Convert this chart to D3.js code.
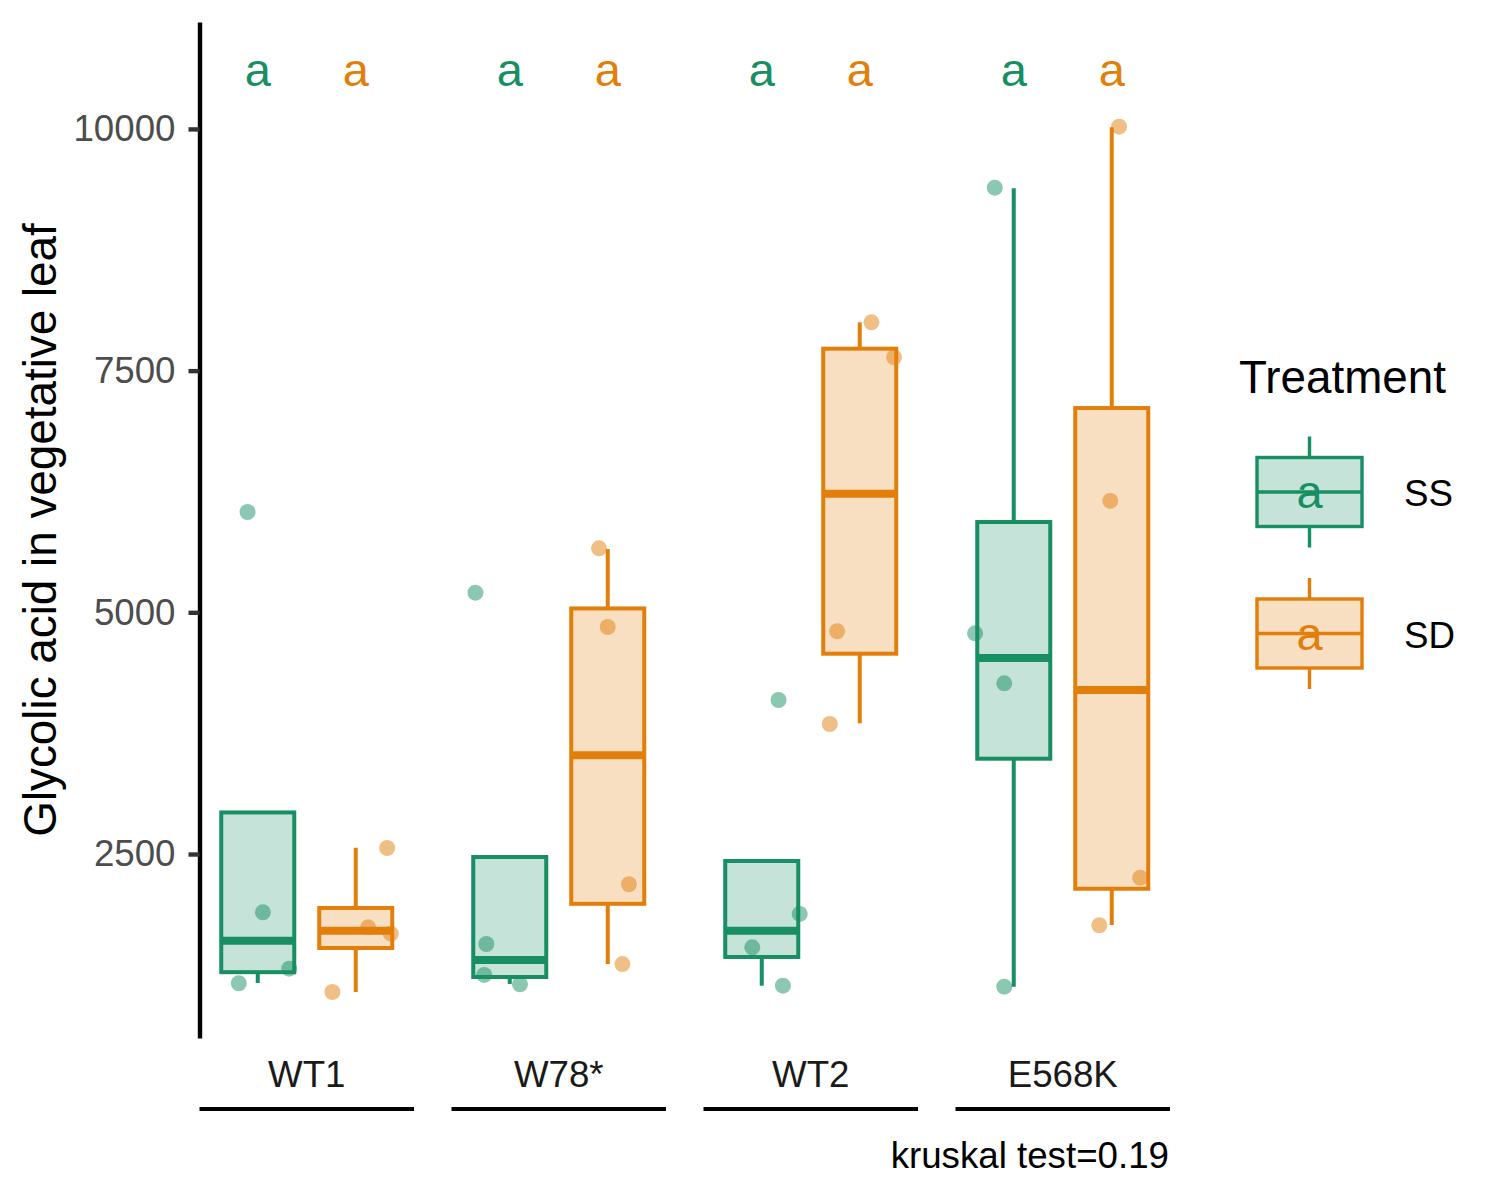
<!DOCTYPE html>
<html>
<head>
<meta charset="utf-8">
<script src="https://cdn.jsdelivr.net/npm/d3@7"></script>
<style>
  body { margin: 0; background: #fff; }
  text { font-family: "Liberation Sans", Arial, sans-serif; }
</style>
</head>
<body>
<svg id="chart" width="1500" height="1200"></svg>
<script>
// categories
var groups = ["WT1", "W78*", "WT2", "E568K"];
var treatments = ["SS", "SD"];
var letters = ["a", "a"];

// box stats (SS)
var ssLow  = [1166, 1156, 1138, 1128];
var ssQ1   = [1278, 1228, 1435, 3486];
var ssMed  = [1602, 1404, 1706, 4528];
var ssQ3   = [2930, 2469, 2428, 5934];
var ssHigh = [2930, 2469, 2428, 9386];

// box stats (SD)
var sdLow  = [1073, 1362, 3852, 1766];
var sdQ1   = [1528, 1985, 4572, 2141];
var sdMed  = [1706, 3521, 6227, 4197];
var sdQ3   = [1942, 5040, 7727, 7113];
var sdHigh = [2565, 5655, 8000, 10017];

// raw points and their jitter (fraction of box width)
var ssPoints = [[6038, 1897, 1314, 1163], [5203, 1569, 1249, 1152], [4093, 1880, 1535, 1138], [9392, 4783, 4266, 1128]];
var ssJitter = [[-0.14, 0.07, 0.43, -0.26], [-0.47, -0.32, -0.35, 0.14], [0.23, 0.52, -0.13, 0.29], [-0.26, -0.53, -0.13, -0.13]];
var sdPoints = [[2562, 1742, 1676, 1073], [5662, 4848, 2187, 1362], [8000, 7638, 4804, 3845], [10023, 6152, 2255, 1763]];
var sdJitter = [[0.43, 0.17, 0.48, -0.32], [-0.12, 0, 0.29, 0.2], [0.16, 0.47, -0.31, -0.41], [0.1, -0.02, 0.39, -0.17]];

var yTicks = [2500, 5000, 7500, 10000];
var letterValue = 10440;
var caption = "kruskal test=0.19";

var colors = { SS: "#178F63", SD: "#E27F0B" };

var svg = d3.select("#chart");

var x0 = d3.scaleBand().domain(groups).range([199.5, 1170]).paddingInner(0.1488).paddingOuter(0);
var x1 = d3.scaleBand().domain(treatments).range([0, x0.bandwidth()]).paddingInner(0.255).paddingOuter(0.222);
var y = d3.scaleLinear().domain([597, 11106]).range([1038, 22]);

// build one row per box
var boxes = [];
groups.forEach(function(g, i) {
    boxes.push({ group: g, trt: "SS", low: ssLow[i], q1: ssQ1[i], med: ssMed[i], q3: ssQ3[i], high: ssHigh[i], pts: ssPoints[i], jit: ssJitter[i] });
    boxes.push({ group: g, trt: "SD", low: sdLow[i], q1: sdQ1[i], med: sdMed[i], q3: sdQ3[i], high: sdHigh[i], pts: sdPoints[i], jit: sdJitter[i] });
});

function cx(d) { return x0(d.group) + x1(d.trt) + x1.bandwidth() / 2; }

var lw = 4;
var gBox = svg.append("g");

// whiskers
gBox.selectAll(".whisk-hi").data(boxes).enter().append("line")
    .attr("x1", cx).attr("x2", cx)
    .attr("y1", function(d) { return y(d.q3); })
    .attr("y2", function(d) { return y(d.high); })
    .attr("stroke", function(d) { return colors[d.trt]; })
    .attr("stroke-width", lw);
gBox.selectAll(".whisk-lo").data(boxes).enter().append("line")
    .attr("x1", cx).attr("x2", cx)
    .attr("y1", function(d) { return y(d.q1); })
    .attr("y2", function(d) { return y(d.low); })
    .attr("stroke", function(d) { return colors[d.trt]; })
    .attr("stroke-width", lw);

// boxes
gBox.selectAll(".box").data(boxes).enter().append("rect")
    .attr("x", function(d) { return x0(d.group) + x1(d.trt); })
    .attr("width", x1.bandwidth())
    .attr("y", function(d) { return y(d.q3); })
    .attr("height", function(d) { return y(d.q1) - y(d.q3); })
    .attr("fill", function(d) { return colors[d.trt]; })
    .attr("fill-opacity", 0.25)
    .attr("stroke", function(d) { return colors[d.trt]; })
    .attr("stroke-width", lw);

// medians
gBox.selectAll(".median").data(boxes).enter().append("line")
    .attr("x1", function(d) { return x0(d.group) + x1(d.trt); })
    .attr("x2", function(d) { return x0(d.group) + x1(d.trt) + x1.bandwidth(); })
    .attr("y1", function(d) { return y(d.med); })
    .attr("y2", function(d) { return y(d.med); })
    .attr("stroke", function(d) { return colors[d.trt]; })
    .attr("stroke-width", lw * 2);

// jittered points
var pts = [];
boxes.forEach(function(b) {
    b.pts.forEach(function(v, k) {
        pts.push({ group: b.group, trt: b.trt, value: v, jit: b.jit[k] });
    });
});
svg.append("g").selectAll("circle").data(pts).enter().append("circle")
    .attr("cx", function(d) { return cx(d) + d.jit * x1.bandwidth(); })
    .attr("cy", function(d) { return y(d.value); })
    .attr("r", 8)
    .attr("fill", function(d) { return colors[d.trt]; })
    .attr("fill-opacity", 0.5);

// significance letters
svg.append("g").selectAll("text").data(boxes).enter().append("text")
    .attr("x", cx)
    .attr("y", y(letterValue))
    .attr("text-anchor", "middle")
    .attr("font-size", "47px")
    .attr("fill", function(d) { return colors[d.trt]; })
    .text(function(d) { return letters[treatments.indexOf(d.trt)]; });

// y axis
var yAxis = svg.append("g")
    .attr("transform", "translate(199.5,0)")
    .call(d3.axisLeft(y).tickValues(yTicks).tickSize(11).tickSizeOuter(0).tickPadding(13).tickFormat(d3.format("d")));
yAxis.select(".domain").attr("stroke", "#000").attr("stroke-width", 4.4);
yAxis.selectAll(".tick line").attr("stroke", "#333").attr("stroke-width", 4.4);
yAxis.selectAll(".tick text")
    .attr("font-size", "36.7px")
    .attr("font-family", "Liberation Sans, Arial, sans-serif")
    .attr("fill", "#4D4D4D");

svg.append("text")
    .attr("transform", "translate(56,530) rotate(-90)")
    .attr("text-anchor", "middle")
    .attr("font-size", "45.8px")
    .attr("fill", "#000")
    .text("Glycolic acid in vegetative leaf");

// group labels with underlines
var gx = svg.append("g");
gx.selectAll("text").data(groups).enter().append("text")
    .attr("x", function(d) { return x0(d) + x0.bandwidth() / 2; })
    .attr("y", 1086.7)
    .attr("text-anchor", "middle")
    .attr("font-size", "36.7px")
    .attr("fill", "#1A1A1A")
    .text(function(d) { return d; });
gx.selectAll("line").data(groups).enter().append("line")
    .attr("x1", function(d) { return x0(d); })
    .attr("x2", function(d) { return x0(d) + x0.bandwidth(); })
    .attr("y1", 1109).attr("y2", 1109)
    .attr("stroke", "#000")
    .attr("stroke-width", 4);

svg.append("text")
    .attr("x", 1169)
    .attr("y", 1168)
    .attr("text-anchor", "end")
    .attr("font-size", "36.7px")
    .attr("fill", "#000")
    .text(caption);

// legend
var legend = svg.append("g");
legend.append("text")
    .attr("x", 1239).attr("y", 393)
    .attr("font-size", "45.8px")
    .attr("fill", "#000")
    .text("Treatment");

var keyTop = [457.5, 599];
var keyH = 69;
treatments.forEach(function(t, i) {
    var k = legend.append("g").attr("transform", "translate(1257," + keyTop[i] + ")");
    k.append("line").attr("x1", 52.5).attr("x2", 52.5).attr("y1", -21).attr("y2", 0)
        .attr("stroke", colors[t]).attr("stroke-width", 3.4);
    k.append("line").attr("x1", 52.5).attr("x2", 52.5).attr("y1", keyH).attr("y2", keyH + 21)
        .attr("stroke", colors[t]).attr("stroke-width", 3.4);
    k.append("rect").attr("x", 0).attr("y", 0).attr("width", 105).attr("height", keyH)
        .attr("fill", colors[t]).attr("fill-opacity", 0.25)
        .attr("stroke", colors[t]).attr("stroke-width", 3.4);
    k.append("line").attr("x1", 0).attr("x2", 105).attr("y1", keyH / 2).attr("y2", keyH / 2)
        .attr("stroke", colors[t]).attr("stroke-width", 3.4);
    k.append("text").attr("x", 52.5).attr("y", 50.5)
        .attr("text-anchor", "middle")
        .attr("font-size", "47px")
        .attr("fill", colors[t])
        .text(letters[i]);
    legend.append("text")
        .attr("x", 1404).attr("y", keyTop[i] + 48.5)
        .attr("font-size", "36.7px")
        .attr("fill", "#000")
        .text(t);
});
</script>
</body>
</html>
